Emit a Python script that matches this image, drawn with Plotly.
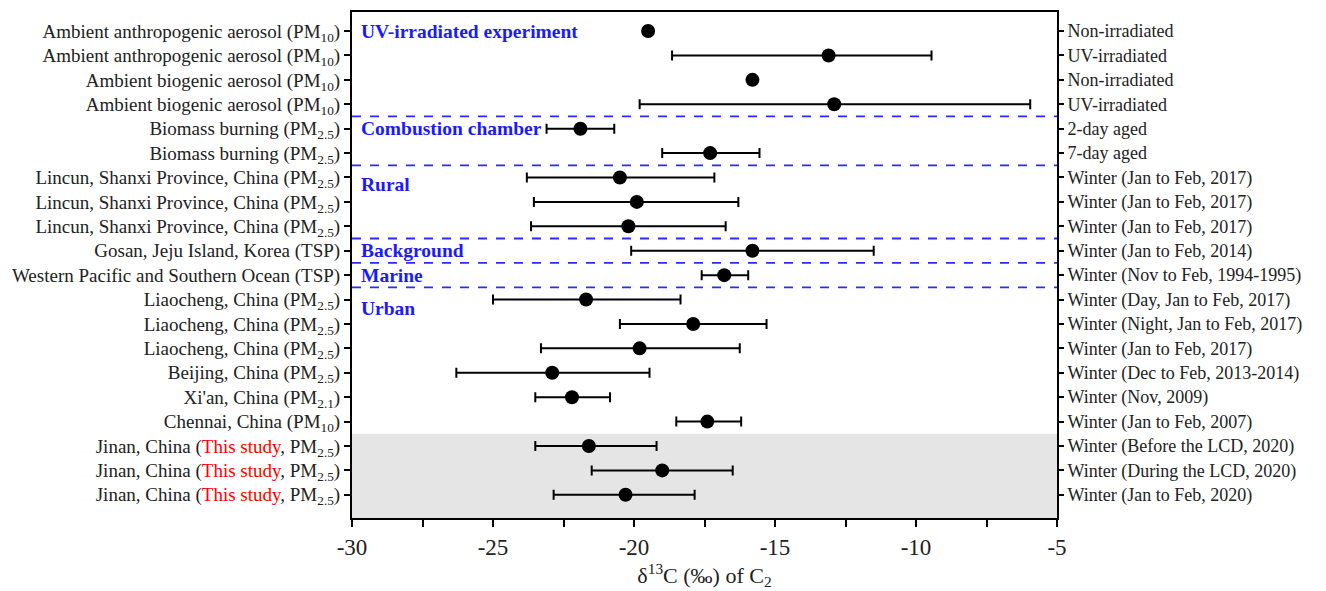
import plotly.graph_objects as go

left_labels = [
    "Ambient anthropogenic aerosol (PM<sub>10</sub>)",
    "Ambient anthropogenic aerosol (PM<sub>10</sub>)",
    "Ambient biogenic aerosol (PM<sub>10</sub>)",
    "Ambient biogenic aerosol (PM<sub>10</sub>)",
    "Biomass burning (PM<sub>2.5</sub>)",
    "Biomass burning (PM<sub>2.5</sub>)",
    "Lincun, Shanxi Province, China (PM<sub>2.5</sub>)",
    "Lincun, Shanxi Province, China (PM<sub>2.5</sub>)",
    "Lincun, Shanxi Province, China (PM<sub>2.5</sub>)",
    "Gosan, Jeju Island, Korea (TSP)",
    "Western Pacific and Southern Ocean (TSP)",
    "Liaocheng, China (PM<sub>2.5</sub>)",
    "Liaocheng, China (PM<sub>2.5</sub>)",
    "Liaocheng, China (PM<sub>2.5</sub>)",
    "Beijing, China (PM<sub>2.5</sub>)",
    "Xi'an, China (PM<sub>2.1</sub>)",
    "Chennai, China (PM<sub>10</sub>)",
    "Jinan, China (<span style='color:red'>This study</span>, PM<sub>2.5</sub>)",
    "Jinan, China (<span style='color:red'>This study</span>, PM<sub>2.5</sub>)",
    "Jinan, China (<span style='color:red'>This study</span>, PM<sub>2.5</sub>)",
]
right_labels = [
    "Non-irradiated", "UV-irradiated", "Non-irradiated", "UV-irradiated",
    "2-day aged", "7-day aged",
    "Winter (Jan to Feb, 2017)", "Winter (Jan to Feb, 2017)", "Winter (Jan to Feb, 2017)",
    "Winter (Jan to Feb, 2014)", "Winter (Nov to Feb, 1994-1995)",
    "Winter (Day, Jan to Feb, 2017)", "Winter (Night, Jan to Feb, 2017)",
    "Winter (Jan to Feb, 2017)", "Winter (Dec to Feb, 2013-2014)",
    "Winter (Nov, 2009)", "Winter (Jan to Feb, 2007)",
    "Winter (Before the LCD, 2020)", "Winter (During the LCD, 2020)",
    "Winter (Jan to Feb, 2020)",
]
means = [-19.5, -13.1, -15.8, -12.9, -21.9, -17.3, -20.5, -19.9, -20.2, -15.8,
         -16.8, -21.7, -17.9, -19.8, -22.9, -22.2, -17.4, -21.6, -19.0, -20.3]
lows = [-19.5, -18.65, -15.8, -19.8, -23.1, -19.0, -23.8, -23.55, -23.65, -20.1,
        -17.6, -25.0, -20.5, -23.3, -26.3, -23.5, -18.5, -23.5, -21.5, -22.85]
highs = [-19.5, -9.45, -15.8, -5.95, -20.7, -15.55, -17.15, -16.3, -16.75, -11.5,
         -15.95, -18.35, -15.3, -16.25, -19.45, -20.85, -16.2, -19.2, -16.5, -17.85]
group_names = ["UV-irradiated experiment", "Combustion chamber", "Rural",
               "Background", "Marine", "Urban"]
group_rows = [1, 5, 7.3, 10, 11, 12.35]
separators = [4.5, 6.5, 9.5, 10.5, 11.5]
shade_from = 17.5

rows = list(range(1, len(means) + 1))
err_plus = [h - m for h, m in zip(highs, means)]
err_minus = [m - l for m, l in zip(means, lows)]

FONT = "Liberation Serif"
yrange = [20.95, 0.22]

fig = go.Figure()
fig.add_trace(go.Scatter(
    x=means, y=rows, mode="markers",
    marker=dict(color="black", size=14),
    error_x=dict(type="data", symmetric=False, array=err_plus, arrayminus=err_minus,
                 color="black", thickness=2, width=5),
    showlegend=False, hoverinfo="x+y",
))
fig.add_trace(go.Scatter(x=means, y=rows, yaxis="y2", mode="markers",
                         marker=dict(opacity=0), showlegend=False, hoverinfo="skip"))

shapes = [dict(type="rect", xref="paper", yref="y", x0=0, x1=1, y0=shade_from, y1=yrange[0],
               fillcolor="#e5e5e5", line=dict(width=0), layer="below")]
for s in separators:
    shapes.append(dict(type="line", xref="paper", yref="y", x0=0, x1=1, y0=s, y1=s,
                       line=dict(color="#2b2bff", width=1.8, dash="dash")))
fig.update_layout(shapes=shapes)

for name, r in zip(group_names, group_rows):
    fig.add_annotation(x=-29.75, y=r, xref="x", yref="y", text="<b>" + name + "</b>",
                       showarrow=False, xanchor="left", yanchor="middle",
                       font=dict(family=FONT, size=19.5, color="#1a1aff"))

xticks = [-30 + 2.5 * i for i in range(11)]
xtext = [str(int(v)) if v == int(v) else "" for v in xticks]

fig.update_layout(
    width=1318, height=583,
    margin=dict(l=344, r=269, t=2, b=73),
    plot_bgcolor="white", paper_bgcolor="white",
    font=dict(family=FONT, size=18, color="#222"),
    xaxis=dict(range=[-30, -5], tickmode="array", tickvals=xticks, ticktext=xtext,
               ticks="outside", ticklen=7, tickwidth=1.5, tickcolor="black",
               showline=True, linecolor="black", linewidth=2, mirror=True,
               showgrid=False, zeroline=False,
               tickfont=dict(family=FONT, size=23, color="#222"),
               title=dict(text="δ<sup>13</sup>C (‰) of C<sub>2</sub>", standoff=4,
                          font=dict(family=FONT, size=22, color="#222"))),
    yaxis=dict(range=yrange, tickmode="array", tickvals=rows, ticktext=left_labels,
               ticks="outside", ticklen=6, tickwidth=1.5, tickcolor="black",
               showline=True, linecolor="black", linewidth=2,
               showgrid=False, zeroline=False,
               tickfont=dict(family=FONT, size=19, color="#222")),
    yaxis2=dict(range=yrange, overlaying="y", side="right", tickmode="array",
                tickvals=rows, ticktext=right_labels,
                ticks="outside", ticklen=5, tickwidth=1.5, tickcolor="black",
                showline=True, linecolor="black", linewidth=2,
                showgrid=False, zeroline=False,
                tickfont=dict(family=FONT, size=18, color="#222")),
)

fig.write_html("out.html")
